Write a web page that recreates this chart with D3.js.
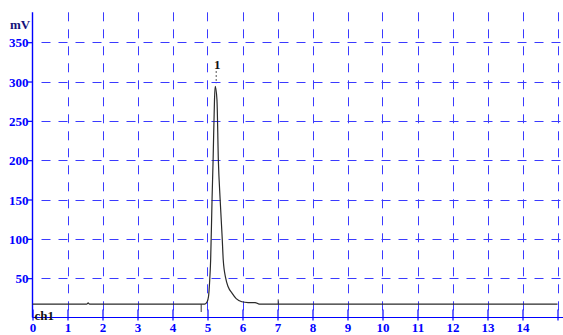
<!DOCTYPE html>
<html>
<head>
<meta charset="utf-8">
<script src="https://cdn.jsdelivr.net/npm/d3@7"></script>
<style>
  html, body { margin: 0; padding: 0; background: #fff; }
  svg { display: block; }
  text { font-family: "Liberation Serif", "Times New Roman", serif; font-weight: bold; }
</style>
</head>
<body>
<svg id="chart" width="563" height="335"></svg>
<script>
// Chromatogram trace, channel ch1: retention time (min) vs detector signal (mV)
const timeMin = [0, 1.55, 1.59, 1.63, 4.92, 4.99, 5.03, 5.06, 5.09, 5.13, 5.16, 5.20, 5.22,
                 5.27, 5.31, 5.36, 5.42, 5.45, 5.52, 5.59, 5.70, 5.82, 5.98, 6.16, 6.36, 6.48, 15];
const signalMv = [17, 17, 18.5, 17, 17, 20, 27, 45, 73, 150, 200, 277, 294,
                  277, 200, 151, 101, 73, 50, 39, 31, 24, 20, 19, 19, 17, 17];

// Integration event marks: [time, signal at tip]
const eventTimes = [4.82, 7.02];
const eventTips = [7, 23];

// Identified peaks
const peakNames = ["1"];
const peakTimes = [5.22];
const peakHeights = [294];

const xTicks = d3.range(0, 16);
const xTickLabels = ["0","1","2","3","4","5","6","7","8","9","10","11","12","13","14",""];
const yTicks = [50, 100, 150, 200, 250, 300, 350];

const svg = d3.select("#chart");
const W = 563;
const x = d3.scaleLinear().domain([0, 15]).range([32.5, 557.5]);
const y = d3.scaleLinear().domain([0, 388]).range([317.5, 12.3]);
const baseline = y(0);
const axisBlue = "#0000ff";
const gridBlue = "#3a3aff";

// grid
const grid = svg.append("g").attr("stroke", gridBlue).attr("stroke-width", 1)
  .attr("stroke-dasharray", "9,8").attr("fill", "none");
grid.selectAll("line.h").data(yTicks).join("line").attr("class", "h")
  .attr("x1", x(0) + 9).attr("x2", W)
  .attr("y1", d => Math.round(y(d)) + 0.5).attr("y2", d => Math.round(y(d)) + 0.5);
grid.selectAll("line.v").data(xTicks.slice(1)).join("line").attr("class", "v")
  .attr("x1", d => Math.round(x(d)) + 0.5).attr("x2", d => Math.round(x(d)) + 0.5)
  .attr("y1", y.range()[1]).attr("y2", baseline - 6);

// y axis
const yAxis = d3.axisLeft(y).tickValues(yTicks).tickSize(5).tickSizeOuter(0);
const gy = svg.append("g").attr("transform", `translate(${x(0)},0)`).call(yAxis);
gy.select(".domain").attr("stroke", axisBlue).attr("stroke-width", 1.4)
  .attr("d", `M0,${y.range()[1]}V${baseline}`);
gy.selectAll(".tick line").attr("stroke", axisBlue).attr("stroke-width", 1.2);
gy.selectAll(".tick text").attr("fill", axisBlue).attr("font-size", 13)
  .attr("x", -4).attr("dy", "0.36em")
  .style("font-family", "'Liberation Serif', serif").style("font-weight", "bold");

// x axis
const xAxis = d3.axisBottom(x).tickValues(xTicks).tickSize(4)
  .tickFormat((d, i) => xTickLabels[i]).tickSizeOuter(0);
const gx = svg.append("g").attr("transform", `translate(0,${baseline})`).call(xAxis);
gx.select(".domain").attr("stroke", axisBlue).attr("stroke-width", 1.2)
  .attr("d", `M${x(0)},0H${W}`);
gx.selectAll(".tick line").attr("stroke", axisBlue).attr("stroke-width", 1.2)
  .attr("y1", -8).attr("y2", 3);
gx.selectAll(".tick text").attr("fill", axisBlue).attr("font-size", 13)
  .attr("y", 14.2).attr("dy", 0)
  .style("font-family", "'Liberation Serif', serif").style("font-weight", "bold");

// unit and channel labels
svg.append("text").attr("x", 10).attr("y", 29).attr("font-size", 13)
  .attr("fill", "#14147a").text("mV");
svg.append("text").attr("x", x(0) + 2).attr("y", 320).attr("font-size", 13)
  .attr("fill", "#111").text("ch1");

// trace
const pts = timeMin.map((t, i) => [t, signalMv[i]]);
svg.append("path").datum(pts)
  .attr("fill", "none").attr("stroke", "#2a2a2a").attr("stroke-width", 1.2)
  .attr("d", d3.line().x(d => x(d[0])).y(d => y(d[1])).curve(d3.curveMonotoneX));

// integration event marks
svg.selectAll("line.evt").data(eventTimes).join("line").attr("class", "evt")
  .attr("stroke", "#333").attr("stroke-width", 1)
  .attr("x1", d => x(d)).attr("x2", d => x(d))
  .attr("y1", y(17)).attr("y2", (d, i) => y(eventTips[i]));

// peak labels
const pk = svg.selectAll("g.peak").data(peakNames).join("g").attr("class", "peak");
pk.append("line")
  .attr("x1", (d, i) => x(peakTimes[i]) + 1).attr("x2", (d, i) => x(peakTimes[i]) + 1)
  .attr("y1", 71).attr("y2", (d, i) => y(peakHeights[i]) - 3)
  .attr("stroke", "#555").attr("stroke-width", 1).attr("stroke-dasharray", "2,2");
pk.append("text")
  .attr("x", (d, i) => x(peakTimes[i]) + 2).attr("y", 69)
  .attr("text-anchor", "middle").attr("font-size", 13).attr("fill", "#111")
  .text(d => d);
</script>
</body>
</html>
